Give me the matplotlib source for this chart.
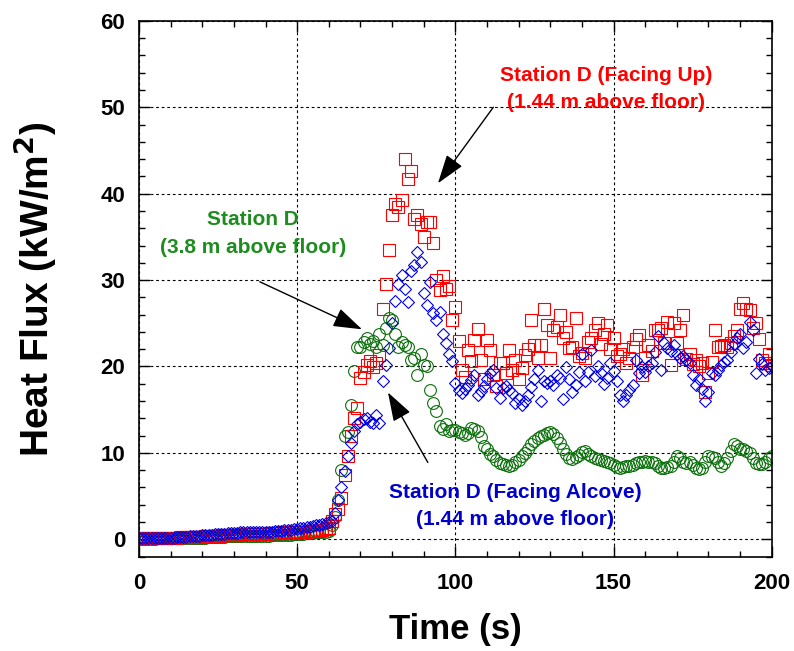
import numpy as np
import matplotlib
matplotlib.use("Agg")
import matplotlib.pyplot as plt
from matplotlib.ticker import MultipleLocator

plt.rcParams['font.family'] = ['Liberation Sans', 'DejaVu Sans']
plt.rcParams['font.weight'] = 'bold'
plt.rcParams['mathtext.default'] = 'bf'

# time (s), one reading per second
time_s = np.arange(0, 201, 1)

# Station D, 3.8 m above floor (green circles)
flux_38m = [
    0.0, 0.0, 0.0, 0.0, 0.0, 0.0, 0.1, 0.1, 0.1, 0.1,
    0.1, 0.1, 0.1, 0.1, 0.1, 0.2, 0.2, 0.2, 0.2, 0.2,
    0.2, 0.2, 0.3, 0.3, 0.3, 0.3, 0.3, 0.3, 0.4, 0.4,
    0.4, 0.4, 0.4, 0.4, 0.4, 0.4, 0.4, 0.4, 0.4, 0.4,
    0.4, 0.4, 0.5, 0.5, 0.5, 0.5, 0.5, 0.5, 0.5, 0.6,
    0.6, 0.6, 0.6, 0.7, 0.7, 0.7, 0.8, 0.8, 0.8, 0.9,
    1.0, 1.6, 2.6, 4.5, 8.0, 12.0, 12.4, 15.5, 19.5, 22.3,
    22.3, 22.8, 23.3, 22.6, 22.9, 22.3, 23.8, 22.5, 24.4, 25.6,
    25.4, 23.8, 22.3, 22.8, 22.5, 22.3, 20.8, 21.0, 19.0, 21.5,
    20.2, 20.0, 17.3, 15.8, 14.8, 13.1, 12.8, 13.3, 12.5, 12.7,
    12.6, 12.4, 12.3, 12.1, 12.3, 12.9, 12.8, 12.5, 11.8, 10.8,
    10.4, 9.9, 9.6, 9.2, 8.8, 8.7, 8.6, 8.5, 8.6, 8.9,
    9.2, 9.6, 10.0, 10.5, 11.0, 11.4, 11.7, 11.9, 12.1, 12.3,
    12.4, 12.2, 11.7, 11.2, 10.4, 9.9, 9.4, 9.3, 9.5, 9.8,
    10.1, 10.2, 9.9, 9.6, 9.4, 9.3, 9.2, 9.1, 8.9, 8.8,
    8.6, 8.4, 8.3, 8.4, 8.5, 8.5, 8.6, 8.8, 9.0, 9.0,
    9.1, 9.0, 9.0, 8.8, 8.5, 8.3, 8.3, 8.4, 8.5, 9.0,
    9.6, 9.4, 9.0, 8.8, 8.9, 8.6, 8.3, 8.1, 8.3, 8.9,
    9.6, 9.5, 9.4, 9.0, 8.5, 8.8, 9.4, 10.2, 11.0, 10.8,
    10.5, 10.4, 10.2, 10.0, 9.4, 8.8, 8.7, 8.7, 9.0, 9.4,
    9.6,
]

# Station D, facing up, 1.44 m above floor (red squares)
flux_up = [
    0.2, 0.2, 0.2, 0.2, 0.2, 0.2, 0.2, 0.2, 0.2, 0.2,
    0.2, 0.2, 0.2, 0.3, 0.3, 0.3, 0.3, 0.3, 0.3, 0.3,
    0.3, 0.4, 0.4, 0.4, 0.4, 0.4, 0.4, 0.5, 0.5, 0.5,
    0.5, 0.5, 0.5, 0.6, 0.6, 0.6, 0.6, 0.6, 0.6, 0.6,
    0.6, 0.7, 0.7, 0.7, 0.7, 0.7, 0.8, 0.8, 0.8, 0.8,
    0.8, 0.9, 0.9, 0.9, 1.0, 1.0, 1.0, 1.1, 1.1, 1.2,
    1.3, 2.1, 2.9, 3.5, 4.8, 7.5, 9.6, 12.0, 14.0, 15.2,
    18.7, 19.4, 20.2, 20.6, 19.9, 20.4, 21.3, 26.7, 29.6, 33.5,
    37.5, 38.8, 38.5, 39.3, 44.0, 41.7, 42.6, 37.1, 37.5, 36.5,
    35.0, 36.7, 36.7, 34.3, 30.0, 28.8, 30.5, 29.0, 29.3, 25.4,
    26.9, 22.9, 19.6, 18.8, 21.9, 20.6, 23.1, 24.3, 20.8, 18.5,
    23.1, 21.9, 19.0, 17.7, 20.4, 20.4, 19.2, 21.9, 19.6, 20.8,
    18.5, 19.8, 21.3, 22.0, 25.4, 22.5, 21.0, 22.5, 26.7, 24.8,
    21.0, 24.2, 24.6, 26.0, 23.3, 24.0, 22.1, 22.3, 25.6, 21.2,
    21.6, 21.0, 22.8, 23.3, 24.2, 25.0, 22.6, 23.8, 24.8, 22.0,
    23.3, 21.2, 21.5, 22.0, 20.4, 21.0, 22.3, 23.2, 23.7, 19.0,
    21.0, 22.5, 21.8, 24.2, 24.2, 24.4, 22.7, 25.2, 20.2, 25.0,
    22.7, 24.2, 26.0, 20.9, 21.5, 20.3, 20.8, 20.0, 20.4, 17.1,
    19.2, 20.5, 24.2, 22.3, 22.4, 22.5, 22.3, 22.7, 23.5, 24.2,
    26.7, 27.3, 26.7, 26.5, 24.5, 25.0, 23.2, 20.8, 20.4, 21.5,
    20.2,
]

# Station D, facing alcove, 1.44 m above floor (blue diamonds)
flux_alcove = [
    0.1, 0.1, 0.1, 0.1, 0.1, 0.1, 0.2, 0.2, 0.2, 0.2,
    0.2, 0.2, 0.3, 0.3, 0.3, 0.3, 0.4, 0.4, 0.4, 0.4,
    0.5, 0.5, 0.5, 0.5, 0.6, 0.6, 0.6, 0.6, 0.7, 0.7,
    0.7, 0.7, 0.8, 0.8, 0.8, 0.8, 0.8, 0.8, 0.8, 0.9,
    0.9, 0.9, 0.9, 1.0, 1.0, 1.0, 1.1, 1.1, 1.1, 1.2,
    1.2, 1.3, 1.3, 1.4, 1.4, 1.5, 1.6, 1.7, 1.8, 1.9,
    2.0, 2.1, 3.1, 4.6, 6.1, 7.9, 9.6, 11.2, 12.5, 13.3,
    13.6, 13.9, 14.0, 13.6, 13.5, 14.4, 13.5, 18.3, 20.2, 22.1,
    25.0, 27.6, 29.5, 30.6, 29.0, 27.5, 31.0, 31.7, 33.3, 32.1,
    28.5, 27.1, 29.8, 26.2, 25.4, 26.3, 23.8, 22.7, 21.5, 20.6,
    18.1, 17.3, 16.9, 17.4, 17.9, 18.4, 19.0, 16.7, 17.2, 17.7,
    18.6, 19.2, 19.6, 17.5, 16.3, 17.5, 17.8, 17.3, 16.9, 15.8,
    16.2, 15.6, 16.0, 16.7, 17.6, 18.6, 19.6, 16.0, 18.3, 18.1,
    18.3, 17.9, 19.0, 18.7, 16.2, 19.9, 18.6, 17.1, 17.9, 19.4,
    21.5, 18.3, 19.4, 21.9, 18.9, 20.0, 19.2, 18.0, 18.7, 20.4,
    19.5, 18.3, 16.7, 16.0, 16.7, 17.3, 17.9, 20.8, 19.2, 19.9,
    19.4, 20.0, 20.4, 21.7, 23.5, 19.6, 22.7, 22.1, 21.8, 22.5,
    21.5, 21.0, 21.2, 20.8, 20.4, 19.0, 17.9, 18.6, 17.4, 16.0,
    17.1, 19.2, 19.0, 19.6, 20.2, 20.5, 20.8, 21.7, 22.6, 23.3,
    23.8, 22.1, 22.8, 25.2, 24.2, 19.2, 20.9, 20.3, 19.6, 19.8,
    20.0,
]

fig = plt.figure(figsize=(7.94, 6.51), dpi=100)
ax = fig.add_axes([0.175, 0.145, 0.797, 0.823])

ax.plot(time_s, flux_38m, 'o', ms=8.5, mfc='none', mec='#0b700b', mew=0.8)
ax.plot(time_s, flux_up, 's', ms=8.3, mfc='none', mec='#ff0000', mew=0.8)
ax.plot(time_s, flux_alcove, 'D', ms=6.3, mfc='none', mec='#0000e6', mew=0.8)

ax.set_xlim(0, 200)
ax.set_ylim(-2, 60)
ax.xaxis.set_major_locator(MultipleLocator(50))
ax.xaxis.set_minor_locator(MultipleLocator(10))
ax.yaxis.set_major_locator(MultipleLocator(10))
ax.yaxis.set_minor_locator(MultipleLocator(2))
ax.tick_params(which='both', direction='in', top=True, right=True, width=1)
ax.tick_params(which='major', length=8, labelsize=16)
ax.tick_params(axis='x', which='major', pad=12)
ax.tick_params(axis='y', which='major', pad=10)
ax.tick_params(which='minor', length=4)
for s in ax.spines.values():
    s.set_linewidth(1.2)

ax.grid(True, which='major', color='black', linestyle=(0, (2.5, 2.5)), linewidth=0.8)

ax.set_xlabel('Time (s)', fontsize=25, fontweight='bold')
ax.set_ylabel('Heat Flux (kW/m$^{2}$)', fontsize=28, fontweight='bold')
ax.xaxis.set_label_coords(0.5, -0.105)
ax.yaxis.set_label_coords(-0.127, 0.5)

arrow = dict(arrowstyle='-|>,head_length=0.9,head_width=0.3', color='black', lw=1, shrinkA=0, shrinkB=0, mutation_scale=20)

ax.text(147.6, 53.7, 'Station D (Facing Up)', color='#ff0000', fontsize=15, ha='center', va='center')
ax.text(147.6, 50.6, '(1.44 m above floor)', color='#ff0000', fontsize=15, ha='center', va='center')
ax.annotate('', xy=(94.5, 41.2), xytext=(112.0, 50.0), arrowprops=arrow)

ax.text(36.0, 37.0, 'Station D', color='#1e8c1e', fontsize=15, ha='center', va='center')
ax.text(36.0, 33.8, '(3.8 m above floor)', color='#1e8c1e', fontsize=15, ha='center', va='center')
ax.annotate('', xy=(70.5, 24.3), xytext=(38.2, 29.8), arrowprops=arrow)

ax.text(118.8, 5.4, 'Station D (Facing Alcove)', color='#0000cc', fontsize=15, ha='center', va='center')
ax.text(118.8, 2.3, '(1.44 m above floor)', color='#0000cc', fontsize=15, ha='center', va='center')
ax.annotate('', xy=(78.7, 17.0), xytext=(91.3, 8.9), arrowprops=arrow)

fig.savefig('out.png', dpi=100)
